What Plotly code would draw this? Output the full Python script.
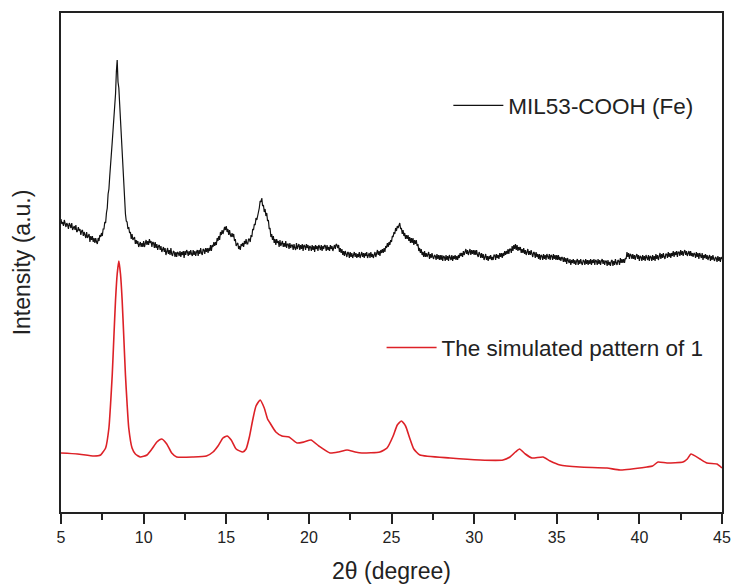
import plotly.graph_objects as go

# ---- data (2theta in degrees, intensity in arbitrary units) ----
# measured pattern, sampled every 0.05 degree from 5.00 to 45.00
exp_start, exp_step = 5.0, 0.05
exp_intensity = [
    293, 288, 290, 286, 292, 287, 285, 289, 287, 283, 289, 287, 284, 289, 282, 284, 286, 282, 287, 280,
    281, 285, 281, 283, 277, 281, 282, 276, 280, 277, 274, 280, 274, 276, 278, 270, 276, 272, 276, 270,
    274, 269, 274, 270, 268, 274, 271, 277, 275, 279, 276, 283, 283, 290, 289, 299, 304, 318, 323, 336,
    345, 358, 370, 382, 392, 402, 418, 440, 452, 430, 424, 408, 392, 378, 360, 340, 322, 306, 298, 291,
    290, 283, 285, 279, 280, 273, 278, 272, 274, 275, 268, 272, 268, 271, 265, 268, 270, 265, 269, 265,
    271, 265, 269, 272, 267, 271, 267, 273, 269, 271, 265, 270, 269, 264, 270, 264, 268, 262, 266, 267,
    262, 266, 260, 264, 265, 260, 264, 257, 262, 264, 258, 262, 257, 264, 258, 256, 261, 260, 255, 260,
    255, 260, 259, 256, 261, 255, 260, 257, 261, 254, 261, 257, 262, 260, 256, 261, 257, 262, 258, 256,
    262, 257, 261, 256, 260, 262, 256, 262, 258, 264, 259, 257, 263, 262, 258, 264, 260, 264, 259, 264,
    261, 267, 261, 267, 265, 270, 266, 270, 267, 274, 271, 276, 272, 280, 277, 282, 278, 284, 285, 282,
    286, 280, 283, 277, 282, 277, 275, 279, 275, 278, 271, 273, 266, 268, 269, 263, 266, 262, 268, 266,
    269, 265, 271, 268, 273, 268, 268, 273, 273, 270, 277, 275, 283, 282, 288, 287, 294, 292, 299, 300,
    304, 311, 310, 314, 306, 307, 300, 303, 296, 299, 291, 292, 283, 284, 275, 278, 272, 276, 269, 273,
    267, 273, 269, 271, 265, 272, 266, 269, 271, 265, 269, 265, 271, 264, 268, 268, 263, 269, 264, 267,
    267, 262, 268, 264, 262, 269, 263, 266, 268, 262, 267, 263, 268, 261, 267, 266, 262, 268, 264, 267,
    261, 266, 265, 261, 267, 262, 266, 260, 267, 263, 266, 261, 267, 265, 262, 267, 261, 266, 263, 267,
    266, 261, 267, 262, 265, 261, 267, 263, 266, 261, 265, 267, 263, 268, 267, 264, 267, 260, 264, 259,
    263, 257, 261, 256, 261, 257, 255, 260, 259, 254, 260, 255, 259, 254, 258, 260, 255, 259, 254, 258,
    255, 260, 254, 258, 260, 255, 259, 254, 259, 256, 260, 254, 258, 259, 254, 260, 255, 258, 254, 259,
    260, 255, 259, 262, 257, 261, 256, 262, 259, 263, 259, 264, 260, 266, 264, 269, 265, 270, 267, 272,
    270, 276, 275, 280, 278, 284, 281, 286, 284, 288, 289, 283, 284, 278, 282, 276, 279, 273, 277, 273,
    277, 271, 275, 269, 274, 269, 274, 267, 272, 268, 272, 266, 268, 261, 264, 259, 263, 257, 260, 255,
    261, 255, 259, 255, 258, 260, 253, 258, 254, 259, 255, 253, 257, 256, 252, 258, 253, 257, 252, 257,
    252, 257, 251, 256, 255, 251, 257, 252, 256, 251, 257, 253, 252, 257, 251, 256, 253, 257, 252, 256,
    252, 257, 254, 259, 256, 259, 255, 261, 257, 260, 263, 258, 262, 257, 261, 263, 257, 262, 258, 262,
    257, 262, 257, 262, 257, 255, 260, 258, 254, 259, 254, 258, 252, 256, 258, 252, 256, 251, 256, 253,
    257, 252, 255, 252, 257, 257, 252, 258, 254, 257, 253, 259, 255, 259, 254, 259, 256, 261, 257, 261,
    258, 263, 258, 263, 263, 259, 266, 261, 267, 263, 268, 262, 267, 261, 265, 262, 265, 259, 263, 259,
    264, 258, 262, 257, 261, 263, 257, 261, 257, 262, 258, 255, 260, 259, 254, 260, 255, 258, 253, 258,
    252, 257, 256, 252, 258, 253, 257, 252, 258, 254, 253, 258, 252, 257, 256, 252, 258, 253, 257, 252,
    257, 252, 257, 252, 255, 251, 255, 254, 250, 255, 250, 254, 248, 254, 250, 249, 253, 247, 252, 249,
    253, 248, 252, 247, 251, 253, 247, 252, 248, 253, 249, 247, 252, 251, 247, 253, 248, 252, 247, 252,
    248, 253, 247, 252, 249, 253, 247, 252, 251, 247, 253, 248, 252, 247, 251, 253, 248, 252, 247, 251,
    251, 246, 252, 247, 250, 246, 251, 252, 246, 251, 247, 253, 249, 247, 252, 251, 247, 254, 249, 253,
    249, 253, 249, 254, 253, 260, 255, 259, 253, 258, 257, 253, 258, 253, 257, 252, 256, 258, 253, 257,
    251, 256, 255, 251, 257, 252, 256, 251, 257, 253, 252, 257, 251, 256, 255, 251, 257, 252, 256, 251,
    258, 253, 257, 252, 256, 259, 253, 258, 254, 259, 255, 253, 258, 258, 254, 260, 255, 259, 254, 259,
    256, 261, 255, 260, 257, 261, 255, 260, 260, 256, 262, 257, 261, 256, 260, 262, 257, 261, 256, 260,
    261, 256, 261, 256, 259, 255, 259, 258, 254, 260, 255, 259, 253, 259, 255, 254, 259, 252, 257, 254,
    258, 253, 257, 252, 255, 257, 251, 256, 252, 257, 253, 251, 255, 254, 250, 256, 251, 255, 250, 255,
    253,
]
exp_theta = [round(exp_start + i * exp_step, 3) for i in range(len(exp_intensity))]

# simulated pattern
sim_theta = [5.0, 6.0, 7.0, 7.4, 7.5, 7.7, 7.9, 8.0, 8.1, 8.2, 8.3, 8.4, 8.5,
             8.6, 8.7, 8.8, 8.9, 9.0, 9.1, 9.3, 9.5, 9.8, 10.2, 10.5, 10.8,
             11.1, 11.4, 11.7, 12.0, 13.0, 13.8, 14.2, 14.5, 14.8, 15.05,
             15.3, 15.6, 16.0, 16.2, 16.4, 16.6, 16.8, 17.05, 17.3, 17.5,
             17.65, 18.0, 18.37, 18.8, 19.28, 19.7, 20.13, 20.6, 21.28,
             21.8, 22.31, 22.8, 23.21, 24.3, 24.73, 25.1, 25.35, 25.6,
             25.85, 26.1, 26.35, 26.72, 28.54, 30.36, 31.75, 32.17, 32.5,
             32.75, 33.1, 33.5, 34.17, 34.6, 35.2, 36.4, 38.04, 38.83,
             40.46, 40.8, 41.13, 41.67, 42.64, 42.9, 43.12, 43.67, 44.09,
             44.7, 45.0]
sim_intensity = [59, 58, 56, 57, 59, 64, 84, 108, 137, 175, 212, 238, 251,
                 238, 212, 175, 137, 108, 84, 64, 58, 55, 57, 63, 70,
                 73, 68, 59, 55, 55, 56, 60, 66, 74, 76,
                 72, 63, 60, 63, 75, 92, 106, 112, 104, 93,
                 89, 80, 76, 75, 69, 70, 72, 66, 59,
                 60, 62, 60, 59, 60, 64, 76, 87, 91,
                 86, 74, 63, 57, 54, 52, 52, 55, 60,
                 63, 58, 54, 55, 51, 47, 45, 44, 42,
                 45, 46, 50, 49, 50, 53, 58, 53, 49,
                 48, 44]

exp_name = "MIL53-COOH (Fe)"
sim_name = "The simulated pattern of 1"

x_ticks = [5, 10, 15, 20, 25, 30, 35, 40, 45]

FONT = "Liberation Sans, Arial, Helvetica, sans-serif"
INK = "#222222"

fig = go.Figure()
fig.add_trace(go.Scatter(
    x=exp_theta, y=exp_intensity, mode="lines", name=exp_name,
    line=dict(color="#111111", width=1.2), legend="legend",
))
fig.add_trace(go.Scatter(
    x=sim_theta, y=sim_intensity, mode="lines", name=sim_name,
    line=dict(color="#dd2127", width=1.6, shape="spline", smoothing=0.5),
    legend="legend2",
))

fig.update_layout(
    width=738, height=588,
    margin=dict(l=61, r=16, t=13, b=76, autoexpand=False),
    paper_bgcolor="white", plot_bgcolor="white",
    font=dict(family=FONT, color=INK),
    showlegend=True,
    legend=dict(x=0.586, y=0.814, xanchor="left", yanchor="middle",
                bgcolor="rgba(0,0,0,0)", font=dict(size=22.5, color=INK),
                itemwidth=50),
    legend2=dict(x=0.485, y=0.329, xanchor="left", yanchor="middle",
                 bgcolor="rgba(0,0,0,0)", font=dict(size=22.5, color=INK),
                 itemwidth=50),
    xaxis=dict(
        range=[5, 45], tickvals=x_ticks, ticktext=[str(t) for t in x_ticks],
        showline=True, linecolor=INK, linewidth=2, mirror=True,
        ticks="outside", ticklen=10, tickwidth=2, tickcolor=INK,
        minor=dict(ticks="outside", ticklen=6, tickwidth=2, tickcolor=INK,
                   dtick=2.5),
        showgrid=False, zeroline=False,
        tickfont=dict(size=16, color=INK),
        title=dict(text="2θ (degree)", font=dict(size=23, color=INK),
                   standoff=18),
    ),
    yaxis=dict(
        range=[0, 499], showticklabels=False, ticks="",
        showline=True, linecolor=INK, linewidth=2, mirror=True,
        showgrid=False, zeroline=False,
        title=dict(text="Intensity (a.u.)", font=dict(size=23, color=INK),
                   standoff=22),
    ),
)

fig.write_html("out.html")
